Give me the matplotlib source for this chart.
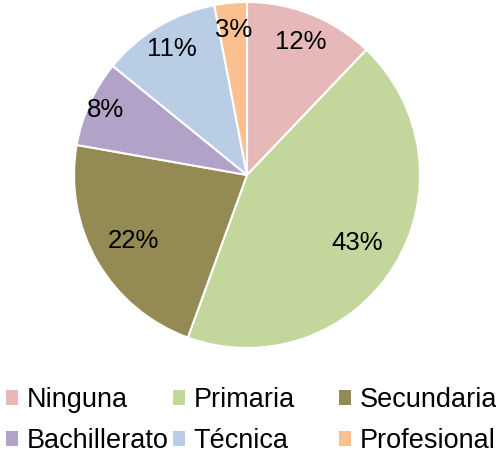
import numpy as np
import matplotlib.pyplot as plt
from matplotlib.patches import Patch

plt.rcParams['font.family'] = ['Liberation Sans', 'DejaVu Sans']

categories = ['Ninguna', 'Primaria', 'Secundaria', 'Bachillerato', 'Técnica', 'Profesional']
values = [12, 43, 22, 8, 11, 3]
colors = ['#E6B9B8', '#C3D69B', '#948A54', '#B3A2C7', '#B9CDE5', '#FAC090']

W, H = 496, 458
fig = plt.figure(figsize=(W / 100, H / 100), dpi=100)

cx, cy, r = 247, 175, 173
ax = fig.add_axes([(cx - r) / W, 1 - (cy + r) / H, 2 * r / W, 2 * r / H])

wedges, texts, autotexts = ax.pie(
    values, colors=colors, startangle=90, counterclock=False,
    autopct='%1.0f%%', pctdistance=1.0,
    wedgeprops=dict(edgecolor='white', linewidth=1.5),
    textprops=dict(fontsize=18.5, color='black'))

# label distance from centre, per wedge (as in the reference)
label_r = [0.83, 0.75, 0.76, 0.90, 0.85, 0.84]
for t, f in zip(autotexts, label_r):
    x, y = t.get_position()
    t.set_position((x * f, y * f))

ax.set_xlim(-1, 1)
ax.set_ylim(-1, 1)
ax.set_aspect('equal')

# legend: three columns placed like the reference
cols = [(0, 3), (1, 4), (2, 5)]
col_x = [6, 173, 339]
for (i, j), x0 in zip(cols, col_x):
    handles = [Patch(facecolor=colors[k], edgecolor='none') for k in (i, j)]
    leg = fig.legend(handles, [categories[i], categories[j]],
                     loc='upper left', bbox_to_anchor=(x0 / W, 1 - 387 / H),
                     frameon=False, fontsize=19.5, handlelength=0.45,
                     handleheight=0.45, handletextpad=0.3, labelspacing=0.55,
                     borderpad=0, borderaxespad=0)

fig.savefig('out.png', dpi=100)
